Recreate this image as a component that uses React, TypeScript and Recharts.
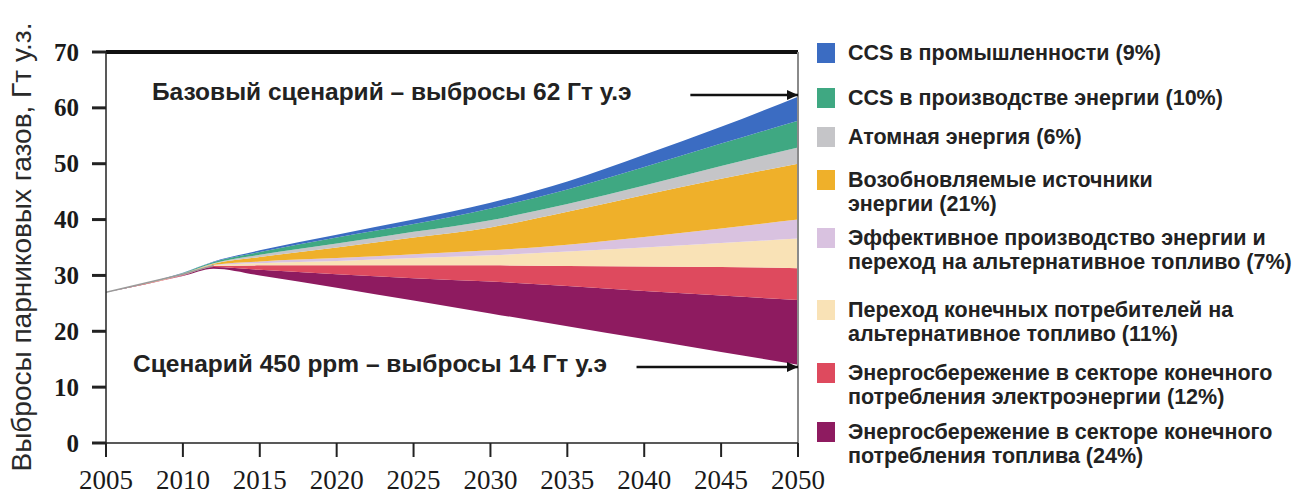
import React from "react";
import {
  AreaChart,
  Area,
  Line,
  XAxis,
  YAxis,
  ReferenceLine,
  ReferenceDot,
} from "recharts";

// ---- data ----
const years = [2005, 2010, 2012, 2015, 2020, 2025, 2030, 2035, 2040, 2045, 2050];
const scenario450 = [27, 29.9, 31.2, 30.0, 27.8, 25.5, 23.2, 20.9, 18.6, 16.3, 14.0];
const fuelSaving = [0, 0.1, 0.3, 1.0, 2.4, 4.0, 5.7, 7.2, 8.6, 10.1, 11.6];
const elecSaving = [0, 0.1, 0.2, 0.8, 1.6, 2.3, 2.9, 3.6, 4.4, 5.1, 5.7];
const endUseSwitch = [0, 0.05, 0.1, 0.4, 0.8, 1.3, 1.8, 2.6, 3.4, 4.3, 5.3];
const powerEff = [0, 0.05, 0.1, 0.3, 0.5, 0.7, 0.9, 1.2, 1.9, 2.6, 3.4];
const renewables = [0, 0.1, 0.2, 0.8, 1.9, 3.0, 4.1, 5.9, 7.5, 8.9, 10.0];
const nuclear = [0, 0.05, 0.1, 0.4, 0.7, 1.0, 1.3, 1.4, 1.7, 2.3, 2.9];
const ccsPower = [0, 0.1, 0.2, 0.5, 1.1, 1.4, 2.1, 2.6, 3.3, 4.0, 4.8];
const ccsIndustry = [0, 0.05, 0.1, 0.3, 0.5, 0.8, 1.0, 1.4, 2.2, 3.0, 4.3];
const history: (number | null)[] = [27, 30.2, 31.8, null, null, null, null, null, null, null, null];

const xTicks = [2005, 2010, 2015, 2020, 2025, 2030, 2035, 2040, 2045, 2050];
const yTicks = [0, 10, 20, 30, 40, 50, 60, 70];

const yTitle = "Выбросы парниковых газов, Гт у.з.";
const baseNote = "Базовый сценарий – выбросы 62 Гт у.э";
const lowNote = "Сценарий 450 ppm – выбросы 14 Гт у.э";
const baseEnd = { year: 2050, value: 62.3, from: 2043 };
const lowEnd = { year: 2050, value: 13.6, from: 2039.5 };

// series from bottom to top
const seriesKeys = ["fuel", "elec", "enduse", "eff", "ren", "nuc", "ccsp", "ccsi"];
const seriesValues = [fuelSaving, elecSaving, endUseSwitch, powerEff, renewables, nuclear, ccsPower, ccsIndustry];
const seriesColors = ["#8e1b60", "#de4a5e", "#f9e2b6", "#d9c2e0", "#efb02a", "#c5c5c8", "#3fa882", "#3b6cc2"];
const seriesLabels = [
  ["Энергосбережение в секторе конечного", "потребления топлива (24%)"],
  ["Энергосбережение в секторе конечного", "потребления электроэнергии (12%)"],
  ["Переход конечных потребителей на", "альтернативное топливо (11%)"],
  ["Эффективное производство энергии и", "переход на альтернативное топливо (7%)"],
  ["Возобновляемые источники", "энергии (21%)"],
  ["Атомная энергия (6%)"],
  ["CCS в производстве энергии (10%)"],
  ["CCS в промышленности (9%)"],
];

const data = years.map((y, i) => {
  const row: any = { year: y, base: scenario450[i], hist: history[i] };
  seriesKeys.forEach((k, j) => {
    row[k] = seriesValues[j][i];
  });
  return row;
});

// legend layout: first-line centre for each entry (top to bottom)
const legendCenters = [53, 98, 137, 180, 238, 310, 373, 432];

const sans = "'Liberation Sans', Arial, sans-serif";
const serif = "'Liberation Serif', 'Times New Roman', serif";

const LegendBlock = () => {
  const order = seriesKeys.map((_, i) => seriesKeys.length - 1 - i);
  return (
    <>
      {order.map((idx, n) => {
        const c = legendCenters[n];
        return (
          <React.Fragment key={seriesKeys[idx]}>
            <div
              style={{
                position: "absolute",
                left: 817,
                top: c - 10,
                width: 18,
                height: 20,
                background: seriesColors[idx],
              }}
            />
            <div
              style={{
                position: "absolute",
                left: 848,
                top: c - 12,
                fontFamily: sans,
                fontWeight: "bold",
                fontSize: 21.5,
                lineHeight: "24px",
                color: "#222",
                whiteSpace: "nowrap",
              }}
            >
              {seriesLabels[idx].map((t, k) => (
                <div key={k}>{t}</div>
              ))}
            </div>
          </React.Fragment>
        );
      })}
    </>
  );
};

const XTick = (p: any) => (
  <text
    x={p.x}
    y={489}
    textAnchor="middle"
    fontFamily={serif}
    fontSize={27}
    fill="#1a1a1a"
  >
    {p.payload.value}
  </text>
);

const YTick = (p: any) => (
  <text
    x={79}
    y={p.y}
    textAnchor="end"
    dominantBaseline="central"
    fontFamily={serif}
    fontWeight="bold"
    fontSize={25}
    fill="#1a1a1a"
  >
    {p.payload.value}
  </text>
);

const arrowHead = (p: any) => (
  <polygon
    points={`${p.cx},${p.cy} ${p.cx - 11},${p.cy - 5} ${p.cx - 11},${p.cy + 5}`}
    fill="#111"
  />
);

const noteStyle: React.CSSProperties = {
  position: "absolute",
  fontFamily: sans,
  fontWeight: "bold",
  fontSize: 24.5,
  lineHeight: "30px",
  color: "#222",
  whiteSpace: "nowrap",
};

export default function App() {
  return (
    <div style={{ position: "absolute", left: 0, top: 0, width: 1305, height: 495, background: "#fff" }}>
      <AreaChart
        width={1305}
        height={495}
        data={data}
        margin={{ top: 52, right: 507, bottom: 0, left: 46 }}
      >
        <XAxis
          dataKey="year"
          type="number"
          domain={[2005, 2050]}
          ticks={xTicks}
          tick={<XTick />}
          tickSize={14}
          height={52}
          axisLine={{ stroke: "#222", strokeWidth: 1.5 }}
          tickLine={{ stroke: "#222", strokeWidth: 2 }}
          allowDataOverflow
        />
        <YAxis
          type="number"
          domain={[0, 70]}
          ticks={yTicks}
          tick={<YTick />}
          tickSize={14}
          width={60}
          axisLine={{ stroke: "#222", strokeWidth: 1.5 }}
          tickLine={{ stroke: "#222", strokeWidth: 3 }}
          label={{
            content: () => (
              <text
                transform="rotate(-90)"
                x={-247}
                y={31}
                textAnchor="middle"
                fontFamily={sans}
                fontSize={28}
                fill="#2a2a2a"
              >
                {yTitle}
              </text>
            ),
          }}
        />
        <Area
          dataKey="base"
          stackId="a"
          stroke="none"
          fill="none"
          type="monotone"
          isAnimationActive={false}
        />
        {seriesKeys.map((k, j) => (
          <Area
            key={k}
            dataKey={k}
            stackId="a"
            type="monotone"
            stroke="none"
            fill={seriesColors[j]}
            fillOpacity={1}
            isAnimationActive={false}
          />
        ))}
        <Line
          dataKey="hist"
          type="linear"
          stroke="#9a9a9a"
          strokeWidth={1.5}
          dot={false}
          isAnimationActive={false}
        />
        <ReferenceLine y={70} stroke="#111" strokeWidth={4} />
        <ReferenceLine x={2050} stroke="#8a8a8a" strokeWidth={2} />
        <ReferenceLine
          segment={[
            { x: baseEnd.from, y: baseEnd.value },
            { x: baseEnd.year, y: baseEnd.value },
          ]}
          stroke="#111"
          strokeWidth={2.5}
        />
        <ReferenceLine
          segment={[
            { x: lowEnd.from, y: lowEnd.value },
            { x: lowEnd.year, y: lowEnd.value },
          ]}
          stroke="#111"
          strokeWidth={2.5}
        />
        <ReferenceDot x={baseEnd.year} y={baseEnd.value} shape={arrowHead} ifOverflow="visible" />
        <ReferenceDot x={lowEnd.year} y={lowEnd.value} shape={arrowHead} ifOverflow="visible" />
      </AreaChart>
      <LegendBlock />
      <div style={{ ...noteStyle, left: 152, top: 92 - 15 }}>{baseNote}</div>
      <div style={{ ...noteStyle, left: 133, top: 364 - 15 }}>{lowNote}</div>
    </div>
  );
}
